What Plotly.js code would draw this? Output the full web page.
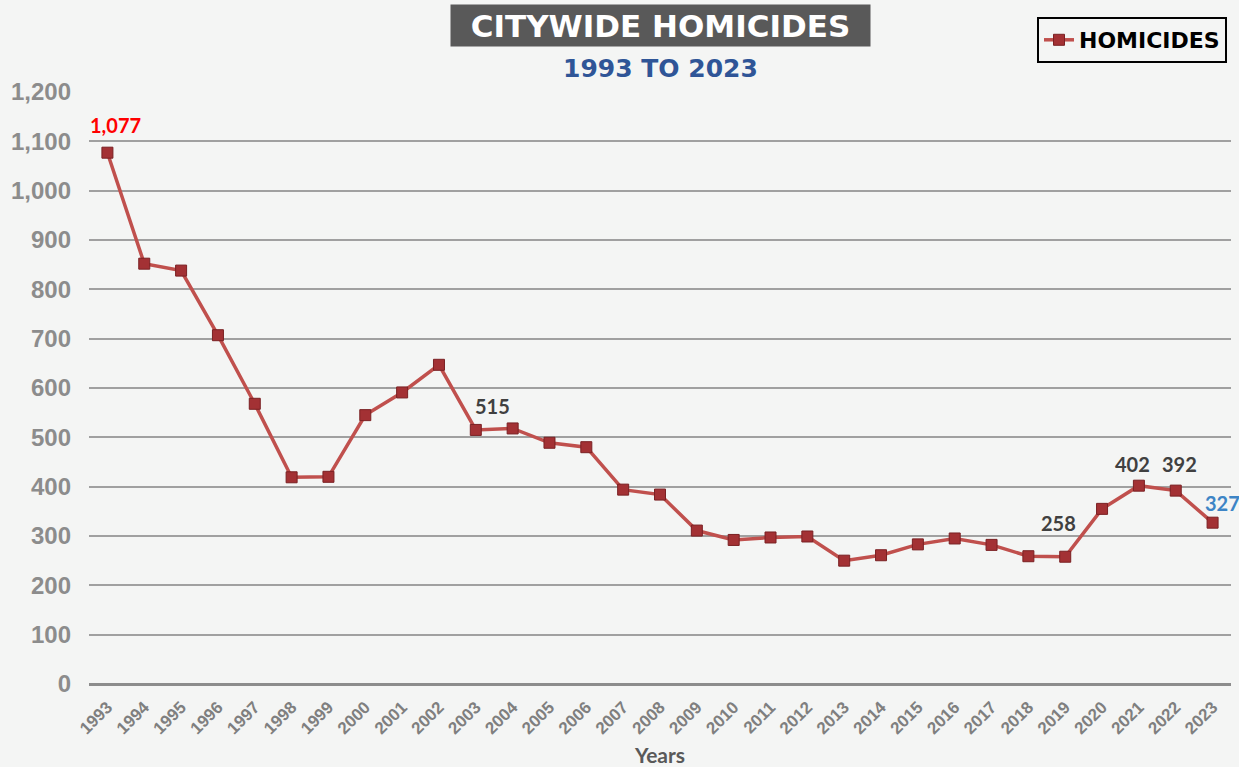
<!DOCTYPE html>
<html>
<head>
<meta charset="utf-8">
<script src="https://cdn.plot.ly/plotly-3.0.1.min.js"></script>
<style>
html,body{margin:0;padding:0;background:#F4F5F4;}
#chart{width:1239px;height:767px;}
</style>
</head>
<body>
<div id="chart"></div>
<script>
const years = ['1993','1994','1995','1996','1997','1998','1999','2000','2001','2002','2003','2004','2005','2006','2007','2008','2009','2010','2011','2012','2013','2014','2015','2016','2017','2018','2019','2020','2021','2022','2023'];
const homicides = [1077,852,838,707,568,419,420,545,591,647,515,518,489,480,394,384,311,292,297,299,250,261,283,295,282,259,258,355,402,392,327];
const yTicks = [0,100,200,300,400,500,600,700,800,900,1000,1100,1200];

const labelYears = ['1993','2003','2019','2021','2022','2023'];
const labelColors = ['#FF0000','#404040','#404040','#404040','#404040','#3D85C6'];
const labelDx = [8,17,-7,-6,4,10];
const labelDy = [28,24,34,22,27,20];

const titleText = 'CITYWIDE HOMICIDES';
const subtitleText = '1993 TO 2023';
const seriesName = 'HOMICIDES';
const xTitle = 'Years';

const trace = {
  x: years, y: homicides, type: 'scatter', mode: 'lines+markers', name: seriesName,
  line: {color: '#C0504D', width: 3.5},
  marker: {symbol: 'square', size: 11, color: '#A33134', line: {color: '#7A2023', width: 1}},
  cliponaxis: false
};

const annotations = labelYears.map((yr, i) => {
  const idx = years.indexOf(yr);
  const v = homicides[idx];
  return {
    x: idx, y: v, xref: 'x', yref: 'y', showarrow: false,
    text: v.toLocaleString('en-US'),
    xshift: labelDx[i], yshift: labelDy[i],
    font: {family: 'Lato, sans-serif', size: 20, color: labelColors[i], weight: 700}
  };
});
annotations.push({
  x: 0.5004, y: 1.1127, xref: 'paper', yref: 'paper', xanchor: 'center', yanchor: 'middle',
  showarrow: false, text: titleText, bgcolor: '#595959', width: 419, height: 41, borderpad: 0,
  font: {family: 'DejaVu Sans, sans-serif', size: 31, color: '#FFFFFF', weight: 700}
});
annotations.push({
  x: 0.5004, y: 1.040, xref: 'paper', yref: 'paper', xanchor: 'center', yanchor: 'middle',
  showarrow: false, text: subtitleText,
  font: {family: 'DejaVu Sans, sans-serif', size: 25, color: '#2F5597', weight: 700}
});

const layout = {
  width: 1239, height: 767,
  paper_bgcolor: '#F4F5F4', plot_bgcolor: '#F4F5F4',
  margin: {l: 89, r: 8, t: 92, b: 83},
  showlegend: true,
  legend: {
    x: 0.9965, y: 1.1267, xanchor: 'right', yanchor: 'top', xref: 'paper', yref: 'paper',
    bordercolor: '#000000', borderwidth: 2, bgcolor: 'rgba(0,0,0,0)',
    font: {family: 'DejaVu Sans, sans-serif', size: 22, color: '#000000', weight: 700}
  },
  xaxis: {
    type: 'category', range: [-0.5, 30.5], tickangle: -45, showgrid: false, zeroline: false,
    showline: false, ticks: '', ticklabelstandoff: 9,
    tickfont: {family: 'Liberation Sans, Arial, sans-serif', size: 17, color: '#7F7F7F', weight: 700},
    title: {text: xTitle, standoff: 14, font: {family: 'Lato, sans-serif', size: 21, color: '#595959', weight: 700}},
    automargin: false, fixedrange: true
  },
  yaxis: {
    range: [0, 1200], tickvals: yTicks, ticktext: yTicks.map(v => v.toLocaleString('en-US')),
    showgrid: true, gridcolor: '#A0A0A0', gridwidth: 2,
    zeroline: true, zerolinecolor: '#8C8C8C', zerolinewidth: 3, showline: false, ticks: '',
    ticklabelstandoff: 17,
    tickfont: {family: 'Liberation Sans, Arial, sans-serif', size: 24, color: '#8C8C8C', weight: 700},
    automargin: false, fixedrange: true
  },
  annotations: annotations
};

Plotly.newPlot('chart', [trace], layout, {displayModeBar: false, staticPlot: true});
</script>
</body>
</html>
